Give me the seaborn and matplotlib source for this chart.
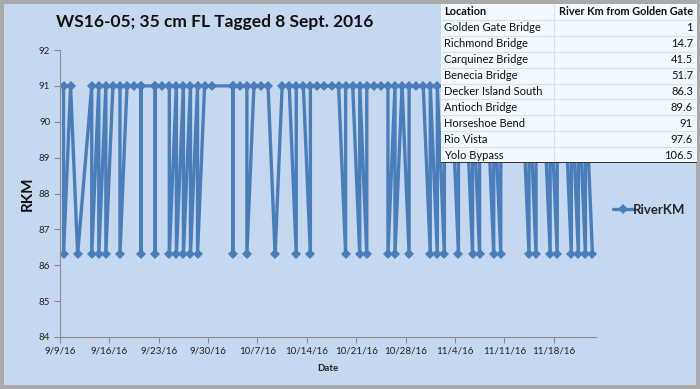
import matplotlib
matplotlib.use("Agg")
import matplotlib.pyplot as plt
from matplotlib.patches import Rectangle
import seaborn as sns
import pandas as pd

title = "WS16-05; 35 cm FL Tagged 8 Sept. 2016"

detection_dates = [
    "9/9", "9/9", "9/10", "9/11", "9/13", "9/13", "9/14", "9/14", "9/15", "9/15",
    "9/16", "9/17", "9/17", "9/18", "9/19", "9/20", "9/20", "9/20", "9/22", "9/22",
    "9/22", "9/23", "9/24", "9/24", "9/25", "9/25", "9/26", "9/26", "9/27", "9/27",
    "9/28", "9/28", "9/29", "9/30", "10/3", "10/3", "10/3", "10/4", "10/5", "10/5",
    "10/6", "10/7", "10/8", "10/9", "10/10", "10/11", "10/12", "10/12", "10/13", "10/14",
    "10/14", "10/15", "10/16", "10/17", "10/18", "10/19", "10/19", "10/20", "10/21", "10/21",
    "10/22", "10/22", "10/23", "10/24", "10/25", "10/25", "10/26", "10/26", "10/27", "10/28",
    "10/28", "10/29", "10/30",
    "10/31", "10/31", "11/1", "11/1", "11/2", "11/2", "11/3", "11/4", "11/4", "11/5",
    "11/6", "11/6", "11/7", "11/7", "11/8", "11/9", "11/9", "11/10", "11/10", "11/11",
    "11/12", "11/13", "11/14", "11/14", "11/15", "11/15", "11/16", "11/17", "11/17", "11/18",
    "11/18", "11/19", "11/20", "11/20", "11/21", "11/21", "11/22", "11/22", "11/23",
]
river_km = [
    91, 86.3, 91, 86.3, 91, 86.3, 91, 86.3, 91, 86.3,
    91, 91, 86.3, 91, 91, 91, 86.3, 91, 91, 86.3,
    91, 91, 91, 86.3, 91, 86.3, 91, 86.3, 91, 86.3,
    91, 86.3, 91, 91, 91, 86.3, 91, 91, 91, 86.3,
    91, 91, 91, 86.3, 91, 91, 86.3, 91, 91, 86.3,
    91, 91, 91, 91, 91, 86.3, 91, 91, 86.3, 91,
    86.3, 91, 91, 91, 91, 86.3, 91, 86.3, 91, 86.3,
    91, 91, 91,
    86.3, 91, 86.3, 91, 86.3, 91, 91, 86.3, 91, 91,
    86.3, 91, 86.3, 91, 91, 86.3, 91, 86.3, 91, 91,
    91, 91, 86.3, 91, 86.3, 91, 91, 86.3, 91, 86.3,
    91, 91, 86.3, 91, 86.3, 91, 86.3, 91, 86.3,
]

locations = ["Golden Gate Bridge", "Richmond Bridge", "Carquinez Bridge", "Benecia Bridge",
             "Decker Island South", "Antioch Bridge", "Horseshoe Bend", "Rio Vista", "Yolo Bypass"]
location_km = ["1", "14.7", "41.5", "51.7", "86.3", "89.6", "91", "97.6", "106.5"]
table_header = ["Location", "River Km from Golden Gate"]

x_tick_dates = ["9/9", "9/16", "9/23", "9/30", "10/7", "10/14", "10/21", "10/28", "11/4", "11/11", "11/18"]
y_ticks = [84, 85, 86, 87, 88, 89, 90, 91, 92]

# ---------------------------------------------------------------
sns.set_theme(style="white")
plt.rcParams["font.family"] = ["Lato", "DejaVu Sans"]

BG = "#C6D8F0"
LINE = "#4A7EBB"
W, H = 700, 389

df = pd.DataFrame({
    "Date": pd.to_datetime(["2016/" + d + " 12:00" for d in detection_dates], format="%Y/%m/%d %H:%M"),
    "RiverKM": river_km,
})

fig = plt.figure(figsize=(W / 100, H / 100), dpi=100, facecolor="#A9A9A9")
fig.patches.append(Rectangle((4 / W, 4 / H), (W - 8) / W, (H - 8) / H, transform=fig.transFigure,
                             facecolor=BG, edgecolor="none", zorder=-10))

ax = fig.add_axes([60 / W, (H - 337) / H, (596 - 60) / W, (337 - 50) / H])
ax.patch.set_alpha(0)
sns.lineplot(data=df, x="Date", y="RiverKM", ax=ax, sort=False, estimator=None,
             color=LINE, linewidth=2.4, marker="D", markersize=5.5, markeredgewidth=0,
             markerfacecolor=LINE, label="RiverKM", legend=False)

ax.set_ylim(84, 92)
ax.set_yticks(y_ticks)
ax.set_xlim(pd.Timestamp("2016-09-09"), pd.Timestamp("2016-11-24"))
xt = pd.to_datetime(["2016/" + d for d in x_tick_dates], format="%Y/%m/%d")
ax.set_xticks(xt)
ax.set_xticklabels([f"{t.month}/{t.day}/16" for t in xt])
for s in ["top", "right"]:
    ax.spines[s].set_visible(False)
for s in ["left", "bottom"]:
    ax.spines[s].set_color("#8C8C8C")
    ax.spines[s].set_linewidth(0.8)
ax.tick_params(axis="both", direction="out", length=4, width=0.8, color="#8C8C8C",
               labelsize=7, labelcolor="#222222", pad=3, left=True, bottom=True)
ax.set_xlabel("Date", fontsize=7, fontweight="bold", labelpad=6, color="#222222")
ax.set_ylabel("RKM", fontsize=11, fontweight="bold", labelpad=3, color="#111111")

fig.text(215 / W, 1 - 22 / H, title, ha="center", va="center", fontsize=12.5,
         fontweight="bold", color="#111111")

# legend
handles, labels = ax.get_legend_handles_labels()
fig.legend(handles, labels, loc="center left", bbox_to_anchor=(601 / W, 1 - 210 / H),
           frameon=False, handlelength=1.5, handletextpad=0.0,
           prop={"weight": "bold", "size": 9.5})

# table
tl, tr, tt, tb = 441, 697, 4, 163
tax = fig.add_axes([tl / W, 1 - tb / H, (tr - tl) / W, (tb - tt) / H])
tax.set_xlim(tl, tr)
tax.set_ylim(tb, tt)
tax.axis("off")
tax.add_patch(Rectangle((tl, tt), tr - tl, tb - tt, facecolor="#F2FAFF", edgecolor="none"))
nrows = len(locations) + 1
rh = (tb - tt) / nrows
split = 554
for i in range(1, nrows):
    tax.plot([tl, tr], [tt + i * rh] * 2, color="#D8E0E8", lw=0.8)
tax.plot([split, split], [tt, tb], color="#D8E0E8", lw=0.8)
tax.plot([tl, tr], [tb, tb], color="#111111", lw=1.2)
tax.text(tl + 3, tt + rh / 2, table_header[0], ha="left", va="center", fontsize=7.8, fontweight="bold", color="#111111")
tax.text(tr - 4, tt + rh / 2, table_header[1], ha="right", va="center", fontsize=7.8, fontweight="bold", color="#111111")
for i, (loc, km) in enumerate(zip(locations, location_km)):
    y = tt + (i + 1.5) * rh
    tax.text(tl + 3, y, loc, ha="left", va="center", fontsize=8, color="#111111")
    tax.text(tr - 4, y, km, ha="right", va="center", fontsize=8, color="#111111")

fig.savefig("out.png", dpi=100, facecolor=fig.get_facecolor())
